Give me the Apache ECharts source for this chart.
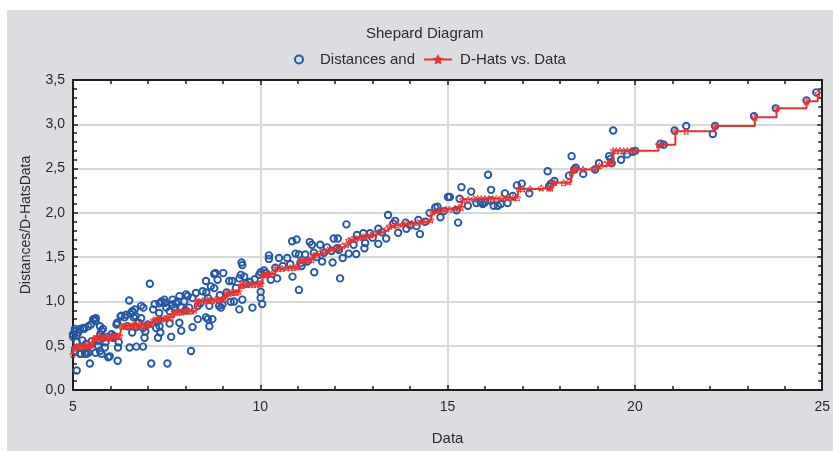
<!DOCTYPE html>
<html>
<head>
<meta charset="utf-8">
<script src="https://cdn.jsdelivr.net/npm/echarts@6/dist/echarts.min.js"></script>
<style>
  html, body { margin: 0; padding: 0; background: #ffffff; width: 833px; height: 451px; overflow: hidden; }
  #chart { position: absolute; left: 7px; top: 10px; width: 826px; height: 441px; background: #dcdde0; }
</style>
</head>
<body>
<div id="chart"></div>
<script>
// ---- data ----
const titleText = 'Shepard Diagram';
const seriesNames = ['Distances and', 'D-Hats vs. Data'];
const xAxisName = 'Data';
const yAxisName = 'Distances/D-HatsData';
const xTicks = [5, 10, 15, 20, 25];
const yTicks = [0, 0.5, 1, 1.5, 2, 2.5, 3, 3.5];

// Distances (scatter): [Data, Distance]
const distances = [
  [5.0,0.63],[5.0,0.60],[5.05,0.66],[5.05,0.69],[5.14,0.65],[5.1,0.62],[5.05,0.44],[5.1,0.22],
  [5.19,0.69],[5.27,0.70],[5.3,0.69],[5.19,0.41],[5.21,0.41],[5.32,0.41],[5.36,0.41],[5.41,0.42],
  [5.45,0.30],[5.41,0.72],[5.48,0.74],[5.54,0.80],[5.57,0.80],[5.61,0.81],[5.6,0.78],[5.6,0.42],
  [5.67,0.50],[5.67,0.555],[5.72,0.72],[5.72,0.44],[5.73,0.63],[5.76,0.67],[5.76,0.41],[5.8,0.69],
  [5.8,0.59],[5.85,0.48],[5.87,0.54],[5.94,0.37],[5.98,0.38],[6.03,0.63],[6.07,0.59],[6.09,0.61],
  [6.16,0.74],[6.18,0.76],[6.19,0.33],[6.2,0.48],[6.22,0.54],[6.27,0.83],[6.29,0.84],[5.1,0.54],
  [5.25,0.56],[5.35,0.52],[5.5,0.55],[5.92,0.60],
  [6.38,0.82],[6.42,0.85],[6.5,1.01],[6.53,0.86],[6.58,0.89],[6.58,0.65],[6.6,0.88],[6.62,0.82],
  [6.65,0.91],[6.67,0.835],[6.69,0.71],[6.51,0.48],[6.69,0.49],[6.87,0.49],[6.82,0.95],[6.82,0.81],
  [6.87,0.70],[6.88,0.93],[6.91,0.59],[6.93,0.66],[7.05,1.20],[7.09,0.30],[7.14,0.91],[7.18,0.97],
  [7.22,0.70],[7.27,0.78],[7.27,0.59],[7.3,0.87],[7.31,0.72],[7.31,0.98],[7.33,0.65],[7.36,1.0],
  [7.44,1.02],[7.46,0.985],[7.49,0.93],[7.52,0.30],[6.45,0.72],[6.75,0.76],[7.0,0.74],
  [7.58,0.89],[7.58,0.75],[7.62,0.60],[7.66,0.965],[7.66,1.02],[7.7,0.93],[7.75,0.98],[7.8,1.0],
  [7.84,1.06],[7.84,0.76],[7.89,0.93],[7.89,0.67],[7.97,1.0],[8.02,1.08],[8.06,1.06],[8.1,0.93],
  [8.15,0.44],[8.19,1.04],[8.19,0.71],[8.28,1.095],[8.33,0.95],[8.33,0.80],[8.46,1.115],[8.55,0.82],
  [8.55,1.23],[8.56,1.10],[8.6,1.04],[8.6,0.80],[8.64,0.95],[8.64,0.72],[8.68,1.17],[8.72,0.80],
  [8.77,1.15],[8.77,1.31],[8.8,1.32],[8.86,1.245],[8.9,0.95],[8.92,1.07],[8.95,0.93],[8.99,0.965],
  [9.01,1.32],[9.17,1.23],[9.21,0.995],[9.25,1.23],[9.3,1.0],[9.44,1.26],[9.44,0.91],[9.48,1.30],
  [9.5,1.44],[9.52,1.41],[9.52,1.02],[9.57,1.28],[9.79,0.93],[9.97,1.30],[8.0,0.90],[8.4,0.98],
  [9.1,1.10],[9.35,1.15],[9.62,1.20],[9.72,1.22],[9.85,1.25],
  [10.01,1.33],[10.1,1.35],[10.01,1.11],[10.01,1.04],[10.05,0.97],[10.23,1.52],[10.23,1.48],
  [10.28,1.245],[10.45,1.26],[10.5,1.49],[10.72,1.49],[10.85,1.68],[10.86,1.28],[10.94,1.54],
  [10.97,1.70],[11.03,1.53],[11.03,1.13],[11.07,1.43],[11.1,1.40],[11.2,1.53],[11.25,1.45],
  [11.32,1.67],[11.38,1.64],[11.43,1.55],[11.44,1.33],[11.6,1.64],[11.65,1.45],[11.78,1.61],
  [11.9,1.57],[11.93,1.44],[11.96,1.71],[12.05,1.60],[12.07,1.71],[12.13,1.26],[12.2,1.49],
  [12.3,1.87],[12.36,1.54],[12.49,1.64],[12.56,1.535],[12.58,1.75],[10.6,1.40],[10.8,1.42],
  [11.5,1.50],[11.7,1.55],[12.1,1.58],[10.4,1.38],[10.15,1.32],
  [12.75,1.77],[12.78,1.60],[12.8,1.66],[12.93,1.77],[13.15,1.82],[13.15,1.65],[13.36,1.71],
  [13.41,1.975],[13.55,1.88],[13.6,1.91],[13.68,1.775],[13.88,1.89],[13.9,1.82],[14.17,1.85],
  [14.22,1.92],[14.26,1.76],[14.52,2.0],[14.67,2.06],[14.73,2.07],[14.81,1.95],[15.01,2.18],
  [13.0,1.72],[13.25,1.78],[14.0,1.86],[14.4,1.90],[14.9,2.02],
  [15.06,2.18],[15.24,2.03],[15.28,1.89],[15.32,2.16],[15.37,2.29],[15.54,2.08],[15.63,2.24],
  [15.77,2.11],[15.88,2.12],[15.94,2.10],[16.08,2.43],[16.16,2.14],[16.16,2.26],[16.23,2.08],
  [16.34,2.08],[16.53,2.22],[16.6,2.11],[16.74,2.19],[16.85,2.31],[16.98,2.33],[17.18,2.22],
  [17.67,2.47],[17.71,2.30],[17.76,2.33],[17.85,2.36],[16.0,2.12],[16.42,2.10],
  [18.24,2.42],[18.31,2.64],[18.38,2.49],[18.42,2.51],[18.62,2.44],[18.94,2.49],[19.04,2.56],
  [19.31,2.64],[19.35,2.61],[19.38,2.56],[19.42,2.93],[19.63,2.60],[19.79,2.66],[19.94,2.69],
  [20.01,2.70],[20.68,2.78],[20.77,2.77],[21.06,2.93],[21.37,2.98],[22.08,2.89],[22.14,2.98],
  [23.18,3.09],[23.76,3.18],[24.58,3.27],[24.84,3.36]
];

// D-Hats (step line): [Data, D-Hat]
const dHats = [
  [5.0,0.40],[5.03,0.47],[5.05,0.48],[5.1,0.49],[5.14,0.49],[5.19,0.49],[5.21,0.49],[5.25,0.49],
  [5.3,0.49],[5.32,0.49],[5.36,0.50],[5.41,0.50],[5.45,0.50],[5.48,0.51],[5.5,0.51],
  [5.55,0.58],[5.57,0.58],[5.6,0.58],[5.64,0.59],[5.67,0.59],[5.72,0.59],[5.76,0.59],[5.8,0.59],
  [5.85,0.59],[5.87,0.59],[5.92,0.59],[5.96,0.59],[6.03,0.60],[6.07,0.60],[6.1,0.60],[6.16,0.60],
  [6.2,0.61],[6.25,0.61],
  [6.3,0.72],[6.35,0.72],[6.4,0.72],[6.45,0.72],[6.5,0.72],[6.55,0.72],[6.6,0.73],[6.65,0.73],
  [6.69,0.73],[6.75,0.73],[6.82,0.73],[6.87,0.73],[6.92,0.73],[7.0,0.74],[7.05,0.74],[7.1,0.75],
  [7.15,0.79],[7.2,0.79],[7.27,0.80],[7.31,0.80],[7.36,0.80],[7.44,0.81],[7.49,0.81],[7.55,0.82],
  [7.62,0.82],
  [7.7,0.88],[7.75,0.88],[7.8,0.88],[7.85,0.88],[7.9,0.88],[7.97,0.89],[8.04,0.89],[8.1,0.89],
  [8.17,0.89],[8.24,0.90],
  [8.3,1.0],[8.36,1.0],[8.46,1.01],[8.55,1.01],[8.6,1.01],[8.66,1.01],[8.72,1.01],[8.8,1.02],
  [8.88,1.02],[8.95,1.02],[9.01,1.03],[9.07,1.03],
  [9.1,1.09],[9.17,1.09],[9.23,1.10],[9.3,1.10],[9.36,1.10],[9.42,1.11],
  [9.47,1.18],[9.52,1.18],[9.57,1.19],[9.65,1.19],[9.75,1.19],[9.82,1.19],[9.9,1.19],[9.97,1.20],
  [10.02,1.20],
  [10.06,1.30],[10.12,1.30],[10.18,1.31],[10.24,1.31],[10.3,1.31],
  [10.4,1.37],[10.48,1.37],[10.58,1.37],[10.7,1.38],[10.8,1.38],[10.88,1.38],[10.96,1.39],[11.02,1.39],
  [11.06,1.46],[11.12,1.46],[11.2,1.46],[11.26,1.47],[11.32,1.47],[11.38,1.47],
  [11.43,1.52],[11.5,1.53],[11.6,1.55],[11.7,1.56],[11.8,1.58],[11.9,1.59],[12.0,1.60],[12.1,1.61],
  [12.2,1.63],[12.3,1.64],
  [12.36,1.69],[12.45,1.70],[12.55,1.71],[12.65,1.72],[12.75,1.73],[12.85,1.74],[12.95,1.75],
  [13.05,1.76],[13.15,1.78],[13.25,1.80],[13.38,1.82],
  [13.45,1.85],[13.55,1.86],[13.65,1.86],[13.8,1.87],[13.9,1.88],[14.05,1.88],[14.2,1.89],
  [14.3,1.90],[14.45,1.91],[14.55,1.92],
  [14.6,2.01],[14.7,2.02],[14.8,2.03],[14.95,2.04],[15.05,2.04],[15.2,2.05],[15.3,2.06],[15.36,2.06],
  [15.4,2.15],[15.55,2.15],[15.7,2.16],[15.8,2.16],[15.9,2.16],[16.0,2.16],[16.1,2.16],[16.2,2.16],
  [16.3,2.16],[16.45,2.17],[16.6,2.17],[16.75,2.17],[16.86,2.17],
  [16.9,2.27],[17.0,2.27],[17.2,2.27],[17.5,2.28],[17.7,2.28],[17.75,2.28],
  [17.8,2.34],[17.85,2.34],[18.1,2.34],[18.24,2.35],
  [18.3,2.45],[18.38,2.49],[18.42,2.49],[18.62,2.49],[18.9,2.50],[18.95,2.50],[19.05,2.53],
  [19.2,2.55],[19.31,2.56],[19.36,2.56],
  [19.42,2.70],[19.5,2.70],[19.6,2.70],[19.7,2.70],[19.8,2.70],[19.9,2.70],[20.0,2.70],
  [20.63,2.77],[20.77,2.77],[21.08,2.92],[21.37,2.92],[22.14,2.98],[23.2,3.08],[23.78,3.18],
  [24.58,3.26],[24.88,3.35]
];

// ---- chart ----
const fontFamily = '"Liberation Sans", Arial, sans-serif';
const blue = '#2458a6';
const red = '#e8322e';
const frame = '#1e1e1e';
const starPath = 'path://M0,-10 L2.9,-4 L9.5,-3.1 L4.8,1.5 L5.9,8.1 L0,5 L-5.9,8.1 L-4.8,1.5 L-9.5,-3.1 L-2.9,-4 Z';
const fmtY = v => v.toFixed(1).replace('.', ',');

const chart = echarts.init(document.getElementById('chart'), null, { renderer: 'canvas', width: 826, height: 441 });

const baseX = {
  type: 'value', min: xTicks[0], max: xTicks[xTicks.length - 1],
  interval: xTicks[1] - xTicks[0],
  axisLine: { show: true, onZero: false, lineStyle: { color: frame, width: 2 } },
  axisTick: { show: true, inside: true, length: 5, lineStyle: { color: frame, width: 1.5 } },
  minorTick: { show: true, splitNumber: 5, length: 4, lineStyle: { color: frame, width: 1.5 } },
};
const baseY = {
  type: 'value', min: yTicks[0], max: yTicks[yTicks.length - 1],
  interval: yTicks[1] - yTicks[0],
  axisLine: { show: true, onZero: false, lineStyle: { color: frame, width: 2 } },
  axisTick: { show: true, inside: true, length: 5, lineStyle: { color: frame, width: 1.5 } },
  minorTick: { show: true, splitNumber: 5, length: 4, lineStyle: { color: frame, width: 1.5 } },
};

chart.setOption({
  animation: false,
  backgroundColor: 'transparent',
  textStyle: { fontFamily },
  title: {
    text: titleText, left: 359, top: 16, padding: 0,
    textStyle: { fontFamily, fontSize: 15, fontWeight: 'normal', color: '#2a2a2a' }
  },
  legend: {
    left: 287, top: 42, padding: 0, itemGap: 8,
    itemWidth: 28, itemHeight: 8,
    textStyle: { fontFamily, fontSize: 15, color: '#2a2a2a' },
    data: [
      { name: seriesNames[0], textStyle: { padding: [0, 0, 0, 2] } },
      { name: seriesNames[1], textStyle: { padding: [0, 0, 0, 3] } }
    ]
  },
  grid: {
    left: 66, top: 70, width: 753, height: 313,
    show: true, backgroundColor: '#ffffff', borderWidth: 0
  },
  xAxis: [
    Object.assign({}, baseX, {
      position: 'bottom',
      name: xAxisName, nameLocation: 'middle', nameGap: 41,
      nameTextStyle: { fontFamily, fontSize: 15, color: '#2a2a2a' },
      axisLabel: { show: true, margin: 10, fontFamily, fontSize: 14, color: '#2a2a2a' },
      splitLine: { show: true, lineStyle: { color: '#d9d9d9', width: 2 } }
    }),
    Object.assign({}, baseX, {
      position: 'top',
      axisLabel: { show: false },
      splitLine: { show: false }
    })
  ],
  yAxis: [
    Object.assign({}, baseY, {
      position: 'left',
      name: yAxisName, nameLocation: 'middle', nameGap: 40,
      nameTextStyle: { fontFamily, fontSize: 14, color: '#2a2a2a', padding: [0, 0, 0, 20] },
      axisLabel: { show: true, margin: 8, fontFamily, fontSize: 14, color: '#2a2a2a', formatter: fmtY },
      splitLine: { show: true, lineStyle: { color: '#d9d9d9', width: 2 } }
    }),
    Object.assign({}, baseY, {
      position: 'right',
      axisLabel: { show: false },
      splitLine: { show: false }
    })
  ],
  series: [
    {
      name: seriesNames[0], type: 'scatter',
      xAxisIndex: 0, yAxisIndex: 0,
      symbol: 'circle', symbolSize: 6.5,
      itemStyle: { color: 'rgba(255,255,255,0)', borderColor: blue, borderWidth: 1.9, opacity: 1 },
      data: distances, z: 2
    },
    {
      name: seriesNames[1], type: 'line',
      xAxisIndex: 0, yAxisIndex: 0,
      step: 'end',
      symbol: starPath, symbolSize: 6.5, showSymbol: true, showAllSymbol: true,
      itemStyle: { color: 'rgba(255,255,255,0)', borderColor: red, borderWidth: 1 },
      lineStyle: { color: red, width: 2 },
      data: dHats, z: 3
    }
  ]
});
</script>
</body>
</html>
